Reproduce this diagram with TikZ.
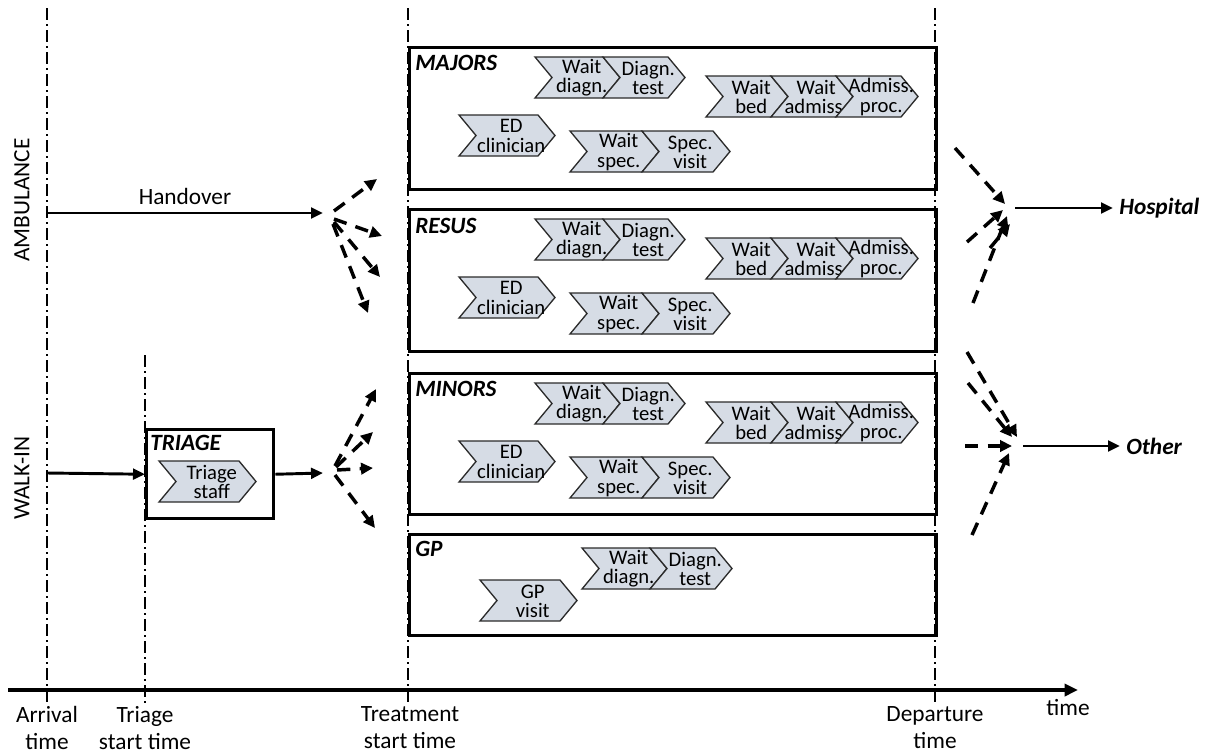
\documentclass[tikz,border=0pt]{standalone}
\usepackage{fontspec}
\setmainfont{Carlito}
\usetikzlibrary{arrows.meta}
\definecolor{chevfill}{HTML}{D6DCE5}
\definecolor{chevline}{HTML}{2B2B2B}
\newcommand{\chd}{17}
% #1 name, #2 x (left), #3 y (top), #4 width, #5 text
\newcommand{\mychev}[5]{%
  \draw[chevstyle] (#2,#3) -- ++(#4-\chd,0) -- ++(\chd,20.5) -- ++(-\chd,20.5) -- ++(-#4+\chd,0) -- ++(\chd,-20.5) -- cycle;
  \node[chevtext] (#1) at (#2+#4/2+\chd/4,#3+21) {#5};
}
% #1 prefix, #2 top of area box
\newcommand{\areachevs}[2]{%
  \mychev{#1wd}{535}{#2+11}{85}{Wait\\diagn.}
  \mychev{#1dt}{603}{#2+11}{82}{Diagn.\\test}
  \mychev{#1wb}{706}{#2+30}{82}{Wait\\bed}
  \mychev{#1wa}{771}{#2+30}{82}{Wait\\admiss.}
  \mychev{#1ap}{836}{#2+30}{82}{Admiss.\\proc.}
  \mychev{#1ed}{459}{#2+69}{96}{ED\\clinician}
  \mychev{#1ws}{570}{#2+85}{89}{Wait\\spec.}
  \mychev{#1sv}{642}{#2+85}{88}{Spec.\\visit}
}
\begin{document}
\begin{tikzpicture}[x=0.75pt,y=-0.75pt,
  chevstyle/.style={fill=chevfill,draw=chevline,line width=1pt,line join=miter},
  chevtext/.style={align=center,inner sep=0pt,font=\fontsize{15.5}{14.4}\selectfont},
  areabox/.style={draw=black,line width=2.6pt,anchor=north west,inner sep=0pt,minimum width=395.25pt},
  arealabel/.style={anchor=west,inner sep=0pt,font=\fontsize{17.5}{19}\selectfont\bfseries\itshape},
  bigtext/.style={inner sep=0pt,align=center,font=\fontsize{17.5}{20.25}\selectfont},
  dashdot/.style={line width=1.1pt,dash pattern=on 9pt off 3pt on 1.5pt off 3pt},
  solidarrow/.style={line width=2.2pt,-{Triangle[length=9pt,width=8pt]}},
  dasharrow/.style={line width=2.6pt,dash pattern=on 10pt off 7pt,-{Triangle[length=9pt,width=8.5pt]}},
]
\useasboundingbox (0,0) rectangle (1205,753);

% vertical time markers
\coordinate (v1t) at (47,8);    \coordinate (v1b) at (47,706);
\coordinate (v2t) at (145,355); \coordinate (v2b) at (145,706);
\coordinate (v3t) at (408,8);   \coordinate (v3b) at (408,706);
\coordinate (v4t) at (935,8);   \coordinate (v4b) at (935,706);
\draw[dashdot] (v1t) -- (v1b);
\draw[dashdot] (v2t) -- (v2b);
\draw[dashdot] (v3t) -- (v3b);
\draw[dashdot] (v4t) -- (v4b);

% time axis
\coordinate (axs) at (8,690); \coordinate (axe) at (1078,690);
\draw[line width=3pt,-{Triangle[length=10pt,width=9pt]}] (axs) -- (axe);
\node[bigtext] (larr) at (47,728) {Arrival\\time};
\node[bigtext] (ltri) at (145,728) {Triage\\start time};
\node[bigtext] (ltre) at (410,728) {Treatment\\start time};
\node[bigtext] (ldep) at (935,728) {Departure\\time};
\node[bigtext] (ltime) at (1068,708) {time};

% arrival streams
\node[bigtext,rotate=90] (amb) at (22,200) {AMBULANCE};
\node[bigtext,rotate=90] (walk) at (22,478) {WALK-IN};

% area boxes
\node[areabox,minimum height=106.5pt] (majors) at (408,46) {};
\node[areabox,minimum height=106.5pt] (resus) at (408,208) {};
\node[areabox,minimum height=105.75pt] (minors) at (408,372) {};
\node[areabox,minimum height=75.75pt] (gp) at (408,533) {};
\node[arealabel] (lmaj) at (415,63) {MAJORS};
\node[arealabel] (lres) at (415,226) {RESUS};
\node[arealabel] (lmin) at (415,389) {MINORS};
\node[arealabel] (lgp) at (415,549) {GP};

\areachevs{maj}{46}
\areachevs{res}{208}
\areachevs{min}{372}
\mychev{gpwd}{582}{548}{85}{Wait\\diagn.}
\mychev{gpdt}{650}{548}{82}{Diagn.\\test}
\mychev{gpvi}{480}{580}{97}{GP\\visit}

% triage
\node[areabox,minimum width=95.25pt,minimum height=66.75pt] (triage) at (145,428) {};
\node[arealabel] (ltriage) at (150,443) {TRIAGE};
\mychev{trst}{159}{461}{97}{Triage\\staff}

% handover
\coordinate (ambs) at (47,213); \coordinate (ambe) at (323,213);
\draw[solidarrow] (ambs) -- (ambe) node[midway,above=5pt,bigtext] (lhand) {Handover};
\coordinate (walks) at (47,473);
\draw[solidarrow] (walks) -- (triage.west);
\coordinate (trie) at (323,473);
\draw[solidarrow] (triage.east) -- (trie);

% fan from handover
\coordinate (fa1) at (334,211); \coordinate (ta1) at (377,179);
\coordinate (fa2) at (334,219); \coordinate (ta2) at (382,236);
\coordinate (fa3) at (334,222); \coordinate (ta3) at (380,277);
\coordinate (fa4) at (333,224); \coordinate (ta4) at (368,313);
\draw[dasharrow] (fa1) -- (ta1);
\draw[dasharrow] (fa2) -- (ta2);
\draw[dasharrow] (fa3) -- (ta3);
\draw[dasharrow] (fa4) -- (ta4);

% fan from triage
\coordinate (fb1) at (335,466); \coordinate (tb1) at (376,389);
\coordinate (fb2) at (336,467); \coordinate (tb2) at (373,432);
\coordinate (fb3) at (337,470); \coordinate (tb3) at (373,468);
\coordinate (fb4) at (335,475); \coordinate (tb4) at (375,528);
\draw[dasharrow] (fb1) -- (tb1);
\draw[dasharrow] (fb2) -- (tb2);
\draw[dasharrow] (fb3) -- (tb3);
\draw[dasharrow] (fb4) -- (tb4);

% to hospital
\coordinate (fh1) at (955,148); \coordinate (th1) at (1005,204);
\coordinate (fh2) at (967,242); \coordinate (th2) at (1003,210);
\coordinate (fh3) at (990,248); \coordinate (th3) at (1010,224);
\coordinate (fh4) at (973,303); \coordinate (th4) at (1007,216);
\draw[dasharrow] (fh1) -- (th1);
\draw[dasharrow] (fh2) -- (th2);
\draw[dasharrow] (fh3) -- (th3);
\draw[dasharrow] (fh4) -- (th4);
\coordinate (hs) at (1015,208); \coordinate (he) at (1113,208);
\draw[solidarrow] (hs) -- (he);
\node[arealabel] (lhosp) at (1119,208) {Hospital};

% to other
\coordinate (fo1) at (967,352); \coordinate (to1) at (1017,437);
\coordinate (fo2) at (968,383); \coordinate (to2) at (1012,437);
\coordinate (fo3) at (965,446); \coordinate (to3) at (1012,446);
\coordinate (fo4) at (972,535); \coordinate (to4) at (1009,453);
\draw[dasharrow] (fo1) -- (to1);
\draw[dasharrow] (fo2) -- (to2);
\draw[dasharrow] (fo3) -- (to3);
\draw[dasharrow] (fo4) -- (to4);
\coordinate (os) at (1023,446); \coordinate (oe) at (1120,446);
\draw[solidarrow] (os) -- (oe);
\node[arealabel] (loth) at (1126,446) {Other};
\end{tikzpicture}
\end{document}
